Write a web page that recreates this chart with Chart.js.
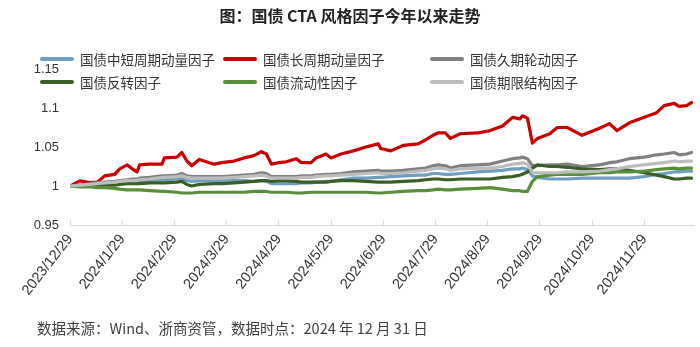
<!DOCTYPE html>
<html>
<head>
<meta charset="utf-8">
<script src="https://cdn.jsdelivr.net/npm/chart.js@4/dist/chart.umd.min.js"></script>
<style>
  body { margin: 0; background: #fff; }
  #wrap { position: relative; width: 700px; height: 347px; overflow: hidden; font-family: "Noto Sans CJK SC", sans-serif; color: #333; }
  #chart { position: absolute; left: 0; top: 0; }
  #title { position: absolute; left: 0; width: 700px; top: 3px; text-align: center; font-size: 16px; font-weight: bold; color: #222; }
  .lg { position: absolute; font-size: 13.5px; line-height: 18px; white-space: nowrap; }
  .lg i { position: absolute; left: -40px; top: 7px; width: 34px; height: 4px; border-radius: 2px; }
  #note { position: absolute; left: 37px; top: 317px; font-size: 14.5px; color: #404040; white-space: nowrap; }
</style>
</head>
<body>
<div id="wrap">
  <canvas id="chart" width="700" height="347"></canvas>
  <div id="title">图：国债 CTA 风格因子今年以来走势</div>
  <div id="legend"></div>
  <div id="note">数据来源：Wind、浙商资管，数据时点：2024 年 12 月 31 日</div>
</div>
<script>
// x positions are trading-day indices (2023/12/29 = 0)
const xIdx = [0,4,8,11,14,18,20,23,25,27,28,32,37,38,43,45,47,49,52,58,61,66,70,74,77,79,81,84,87,91,93,97,99,103,105,109,114,119,124,125,129,134,140,143,146,148,151,153,157,164,169,174,178,181,182,184,186,188,193,196,200,206,213,217,220,225,231,236,239,243,245,248,250];

const xTickIdx = [0,21,42,63,84,105,126,147,168,189,210,231];
const xLabels = ['2023/12/29','2024/1/29','2024/2/29','2024/3/29','2024/4/29','2024/5/29','2024/6/29','2024/7/29','2024/8/29','2024/9/29','2024/10/29','2024/11/29'];
const yTicks = [0.95, 1, 1.05, 1.1, 1.15];

const names = ['国债中短周期动量因子','国债长周期动量因子','国债久期轮动因子','国债反转因子','国债流动性因子','国债期限结构因子'];
const colors = ['#6d9fc3','#c80000','#808080','#3a5f24','#58903a','#bdbdbd'];

const shortMom = [1.000,1.001,1.002,1.003,1.004,1.005,1.006,1.006,1.007,1.007,1.007,1.007,1.008,1.008,1.009,1.010,1.007,1.006,1.007,1.007,1.007,1.007,1.007,1.006,1.007,1.006,1.003,1.003,1.003,1.003,1.004,1.004,1.005,1.006,1.006,1.008,1.010,1.010,1.011,1.011,1.012,1.013,1.014,1.014,1.016,1.016,1.015,1.015,1.016,1.018,1.019,1.020,1.022,1.022,1.023,1.021,1.013,1.011,1.009,1.009,1.009,1.010,1.010,1.010,1.010,1.010,1.012,1.015,1.016,1.018,1.018,1.019,1.019];
const longMom = [1.000,1.0065,1.0045,1.005,1.013,1.015,1.022,1.027,1.022,1.018,1.027,1.028,1.028,1.036,1.037,1.043,1.032,1.026,1.034,1.028,1.030,1.032,1.036,1.039,1.044,1.041,1.028,1.030,1.031,1.035,1.030,1.030,1.036,1.041,1.036,1.041,1.045,1.050,1.054,1.048,1.045,1.052,1.054,1.059,1.065,1.068,1.068,1.061,1.067,1.068,1.071,1.077,1.088,1.086,1.090,1.087,1.055,1.061,1.067,1.075,1.075,1.065,1.074,1.080,1.071,1.081,1.088,1.094,1.103,1.106,1.102,1.103,1.107];
const duration = [1.000,1.001,1.003,1.004,1.005,1.006,1.007,1.008,1.009,1.009,1.010,1.011,1.013,1.013,1.014,1.016,1.013,1.012,1.012,1.012,1.012,1.013,1.014,1.015,1.017,1.016,1.012,1.012,1.012,1.012,1.013,1.013,1.014,1.015,1.015,1.016,1.018,1.019,1.020,1.019,1.019,1.020,1.022,1.023,1.026,1.027,1.026,1.023,1.026,1.027,1.028,1.032,1.035,1.036,1.037,1.035,1.026,1.026,1.027,1.027,1.028,1.025,1.027,1.030,1.031,1.035,1.037,1.040,1.041,1.043,1.040,1.041,1.043];
const reversal = [1.000,1.000,1.000,1.000,1.001,1.001,1.002,1.003,1.003,1.003,1.003,1.004,1.004,1.004,1.005,1.006,1.002,1.000,1.002,1.003,1.003,1.004,1.005,1.006,1.007,1.007,1.006,1.007,1.007,1.006,1.005,1.005,1.005,1.005,1.006,1.007,1.007,1.006,1.005,1.005,1.005,1.006,1.007,1.008,1.009,1.009,1.008,1.008,1.009,1.009,1.009,1.011,1.012,1.014,1.015,1.018,1.023,1.027,1.025,1.025,1.024,1.022,1.021,1.022,1.022,1.020,1.017,1.014,1.012,1.009,1.009,1.010,1.010];
const liquidity = [1.000,0.999,0.999,0.998,0.998,0.997,0.996,0.995,0.995,0.995,0.995,0.994,0.993,0.993,0.992,0.991,0.991,0.991,0.992,0.992,0.992,0.992,0.992,0.993,0.993,0.993,0.992,0.992,0.992,0.991,0.991,0.992,0.992,0.992,0.992,0.992,0.992,0.992,0.991,0.991,0.992,0.993,0.994,0.994,0.995,0.996,0.995,0.995,0.996,0.997,0.998,0.996,0.994,0.994,0.993,0.993,1.006,1.012,1.014,1.015,1.015,1.015,1.017,1.017,1.018,1.018,1.019,1.021,1.022,1.023,1.022,1.023,1.023];
const termStruct = [1.000,1.001,1.002,1.003,1.004,1.005,1.006,1.007,1.007,1.007,1.008,1.009,1.011,1.011,1.012,1.013,1.011,1.010,1.010,1.010,1.010,1.011,1.012,1.013,1.014,1.013,1.010,1.010,1.010,1.010,1.011,1.011,1.012,1.013,1.013,1.014,1.015,1.016,1.017,1.016,1.016,1.017,1.019,1.020,1.022,1.023,1.022,1.020,1.022,1.023,1.023,1.025,1.028,1.029,1.030,1.028,1.017,1.017,1.017,1.017,1.018,1.018,1.019,1.021,1.022,1.025,1.027,1.029,1.030,1.032,1.031,1.032,1.032];

const seriesValues = [shortMom, longMom, duration, reversal, liquidity, termStruct];
// Excel draws later series on top
const drawOrder = [6, 5, 4, 3, 2, 1];

const datasets = seriesValues.map((vals, i) => ({
    label: names[i],
    data: vals.map((v, k) => ({ x: xIdx[k], y: v })),
    borderColor: colors[i],
    borderWidth: 3.2,
    pointRadius: 0,
    tension: 0,
    borderJoinStyle: 'round',
    borderCapStyle: 'round',
    order: drawOrder[i]
}));

// legend: 3 columns x 2 rows
const legendX = [80, 263, 470];
const legendY = [50, 73];
const legendBox = document.getElementById('legend');
names.forEach((n, i) => {
    const d = document.createElement('div');
    d.className = 'lg';
    d.style.left = legendX[i % 3] + 'px';
    d.style.top = legendY[Math.floor(i / 3)] + 'px';
    d.innerHTML = '<i style="background:' + colors[i] + '"></i>' + n;
    legendBox.appendChild(d);
});

new Chart(document.getElementById('chart'), {
    type: 'line',
    data: { datasets: datasets },
    options: {
        responsive: false,
        animation: false,
        layout: { padding: { top: 69, right: 6, left: 0, bottom: 0 } },
        plugins: { legend: { display: false }, title: { display: false }, tooltip: { enabled: false } },
        scales: {
            x: {
                type: 'linear',
                min: 0,
                max: 251,
                afterBuildTicks: s => { s.ticks = xTickIdx.map(v => ({ value: v })); },
                afterFit: s => { s.height = 122; },
                grid: { display: true, drawOnChartArea: false, drawTicks: true, tickLength: -5, color: '#d9d9d9' },
                border: { display: true, color: '#d9d9d9' },
                ticks: {
                    autoSkip: false,
                    maxRotation: 52,
                    minRotation: 52,
                    padding: 11,
                    color: '#333',
                    font: { family: 'Liberation Sans', size: 14.5 },
                    callback: (v, i) => xLabels[i]
                }
            },
            y: {
                min: 0.95,
                max: 1.15,
                afterBuildTicks: s => { s.ticks = yTicks.map(v => ({ value: v })); },
                afterFit: s => { s.width = 70; },
                grid: { display: false, drawTicks: false },
                border: { display: false },
                ticks: {
                    padding: 11,
                    color: '#333',
                    font: { family: 'Liberation Sans', size: 13 },
                    callback: v => String(+v.toFixed(2))
                }
            }
        }
    }
});
</script>
</body>
</html>
